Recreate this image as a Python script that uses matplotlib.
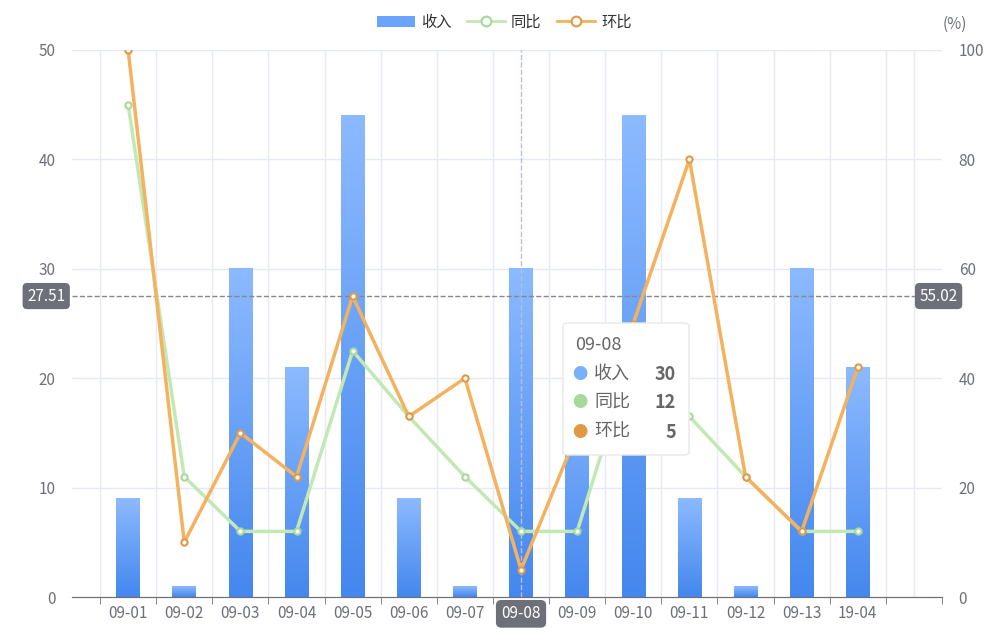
import matplotlib.pyplot as plt
import numpy as np
from matplotlib.patches import FancyBboxPatch
from matplotlib.lines import Line2D

plt.rcParams['font.family'] = ['Noto Sans CJK SC', 'DejaVu Sans']

dates = ['09-01', '09-02', '09-03', '09-04', '09-05', '09-06', '09-07',
         '09-08', '09-09', '09-10', '09-11', '09-12', '09-13', '19-04']
income = [9, 1, 30, 21, 44, 9, 1, 30, 21, 44, 9, 1, 30, 21]
yoy = [90, 22, 12, 12, 45, 33, 22, 12, 12, 45, 33, 22, 12, 12]
mom = [100, 10, 30, 22, 55, 33, 40, 5, 30, 50, 80, 22, 12, 42]

fig = plt.figure(figsize=(10.08, 6.43), dpi=100)
ax = fig.add_axes([72/1008, 1-597/643, 870/1008, 547/643])
ax2 = ax.twinx()

x = np.arange(len(dates))
ax.set_xlim(-1, len(dates))
ax.set_ylim(0, 50)
ax2.set_ylim(0, 100)

grad = np.linspace(1, 0, 256).reshape(-1, 1)
from matplotlib.colors import LinearSegmentedColormap
cmap = LinearSegmentedColormap.from_list('b', ['#4487ee', '#8cbaff'])
for xi, v in zip(x, income):
    ax.imshow(grad, cmap=cmap, aspect='auto', extent=[xi-0.21, xi+0.21, 0, v], zorder=2)

for xv in np.arange(-1, len(dates)+1):
    ax.axvline(xv+0.5 if xv < len(dates) else xv, color='#e6eaf5', lw=1, zorder=0)
for yv in range(10, 51, 10):
    ax.axhline(yv, color='#e6eaf5', lw=1, zorder=0)

ax2.plot(x, yoy, color='#c2e8b4', lw=2.5, marker='o', ms=4.5, mfc='white', mec='#a8d89a', mew=1.5, zorder=3)
ax2.plot(x, mom, color='#f5b25e', lw=2.5, marker='o', ms=4.5, mfc='white', mec='#e09a45', mew=1.5, zorder=4)

ax.axvline(7, color='#b8bfdc', lw=1, ls='--', zorder=5)
ax.axhline(27.51, color='#888888', lw=1, ls='--', zorder=5)

for a in (ax, ax2):
    for s in ['top', 'right', 'left']:
        a.spines[s].set_visible(False)
    a.spines['bottom'].set_color('#6e7079')
    a.tick_params(colors='#6e7079', labelsize=11, length=0)
ax.set_xticks(x)
ax.set_xticklabels(dates)
ax.set_xticks(np.arange(-1, len(dates)+1)+0.5, minor=True)
ax.tick_params(axis='x', which='minor', length=5, color='#6e7079')
ax.tick_params(axis='x', which='major', pad=6)
ax.get_xticklabels()[7].set_color('white')
ax.get_xticklabels()[7].set_bbox(dict(boxstyle='round,pad=0.35', fc='#6e7079', ec='none'))
ax.set_yticks(range(0, 51, 10))
ax2.set_yticks(range(0, 101, 20))
ax.tick_params(axis='y', pad=12)
ax2.tick_params(axis='y', pad=12)
fig.text(955/1008, 1-24/643, '(%)', color='#6e7079', fontsize=11, ha='center', va='center')

ax.text(-1.12, 27.51, '27.51', color='white', fontsize=11, ha='right', va='center',
        bbox=dict(boxstyle='round,pad=0.3', fc='#6e7079', ec='none'), clip_on=False)
ax2.text(len(dates)+0.1, 55.02, '55.02', color='white', fontsize=11, ha='left', va='center',
         bbox=dict(boxstyle='round,pad=0.3', fc='#6e7079', ec='none'), clip_on=False)

# tooltip
tx, ty, tw, th = 563/1008, 1-455/643, 126/1008, 132/643
fig.patches.append(FancyBboxPatch((tx, ty), tw, th, boxstyle='round,pad=0,rounding_size=0.005',
                                  transform=fig.transFigure, fc='white', ec='#e8e8e8', lw=1, zorder=10))
fig.text(575/1008, 1-345/643, dates[7], fontsize=13, color='#666666', va='center', zorder=11)
rows = [('收入', income[7], '#7ab0fa'), ('同比', yoy[7], '#a8d89a'), ('环比', mom[7], '#e09a45')]
for i, (n, v, c) in enumerate(rows):
    yy = 1-(374+29*i)/643
    fig.text(580/1008, yy, '●', color=c, fontsize=11, va='center', ha='center', zorder=11)
    fig.text(594/1008, yy, n, fontsize=13, color='#666666', va='center', zorder=11)
    fig.text(676/1008, yy, str(v), fontsize=13, color='#666666', va='center', ha='right', weight='bold', zorder=11)

handles = [Line2D([], [], color='#6aa5fb', lw=0, marker='s', ms=0),
           Line2D([], [], color='#c2e8b4', lw=2, marker='o', mfc='white', mec='#a8d89a', ms=7, mew=1.5),
           Line2D([], [], color='#f5b25e', lw=2, marker='o', mfc='white', mec='#e09a45', ms=7, mew=1.5)]
from matplotlib.patches import Patch
handles[0] = Patch(fc='#6aa5fb', ec='none')
leg = fig.legend(handles, ['收入', '同比', '环比'], loc='upper center', bbox_to_anchor=(0.5, 1.0),
                 ncol=3, frameon=False, fontsize=11, handlelength=2.5, columnspacing=1.0, handletextpad=0.4)
for t in leg.get_texts():
    t.set_color('#333333')

fig.savefig('out.png', dpi=100)
